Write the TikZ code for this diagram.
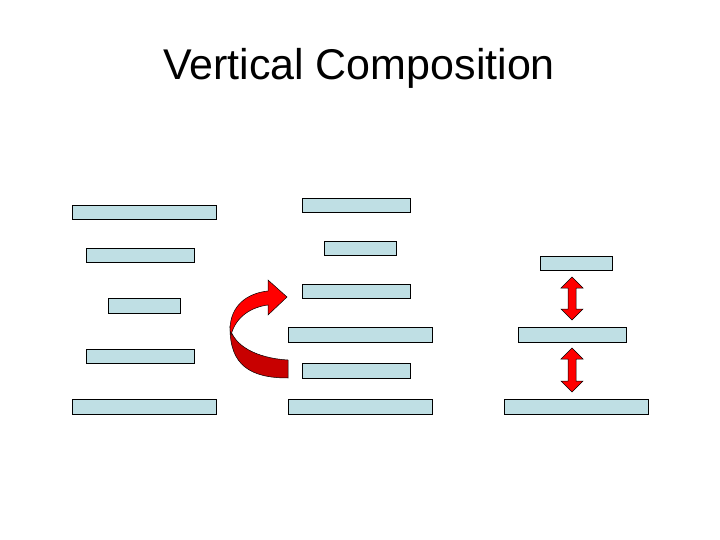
\documentclass[tikz,border=0pt]{standalone}
\usepackage{fontspec}
\setmainfont{Liberation Sans}
\begin{document}
\begin{tikzpicture}[x=1pt,y=-1pt,
  bar/.style={draw=black,fill={rgb,255:red,191;green,223;blue,228},line width=0.6pt},
  red3d/.style={draw=black,line width=0.5pt,fill={rgb,255:red,255;green,0;blue,0}}]
\useasboundingbox (0,0) rectangle (720,540);
\node (title) at (359,68) {\fontsize{43}{50}\selectfont Vertical Composition};
% left
\path[bar] (72,205) rectangle (216,219);
\path[bar] (86,248) rectangle (194,262);
\path[bar] (108,298) rectangle (180,313);
\path[bar] (86,349) rectangle (194,363);
\path[bar] (72,399) rectangle (216,414);
% middle
\path[bar] (302,198) rectangle (410,212);
\path[bar] (324,241) rectangle (396,255);
\path[bar] (302,284) rectangle (410,298);
\path[bar] (288,327) rectangle (432,342);
\path[bar] (302,363) rectangle (410,378);
\path[bar] (288,399) rectangle (432,414);
% right
\path[bar] (540,256) rectangle (612,270);
\path[bar] (518,327) rectangle (626,342);
\path[bar] (504,399) rectangle (648,414);
% double arrows
\foreach \a/\b in {277/320,348/392}{
  \path[red3d] (572,\a) -- (583,\a+11) -- (576,\a+11) -- (576,\b-11) -- (583,\b-11) -- (572,\b)
    -- (561,\b-11) -- (568,\b-11) -- (568,\a+11) -- (561,\a+11) -- cycle;
}
% curved arrow
\path[draw=black,line width=0.5pt,fill={rgb,255:red,200;green,0;blue,0}]
  (288,360) -- (288,378) .. controls (250,378) and (230,365) .. (230,328)
  .. controls (234,345) and (255,358) .. (288,360) -- cycle;
\path[red3d]
  (230,330) .. controls (230,305) and (248,293) .. (268,291) -- (268,280) -- (287,297)
  -- (268,315) -- (268,305) .. controls (252,307) and (236,316) .. (231,335) -- cycle;
\end{tikzpicture}
\end{document}
